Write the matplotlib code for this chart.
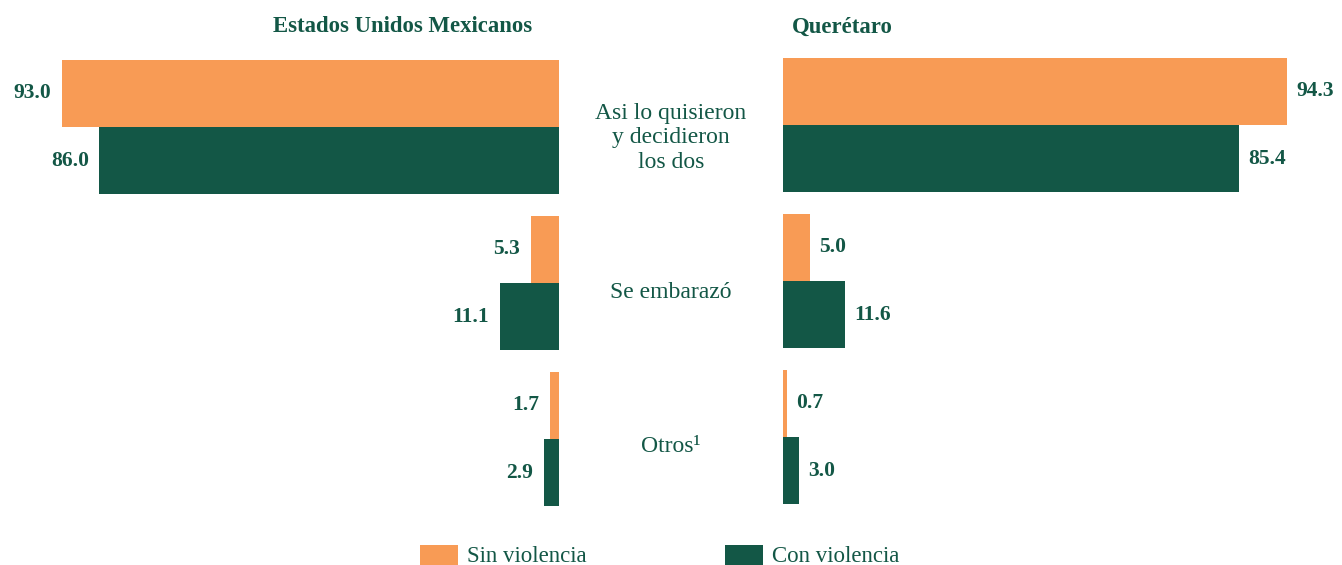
import matplotlib
matplotlib.use("Agg")
import matplotlib.pyplot as plt
from matplotlib.patches import Rectangle

plt.rcParams['font.family'] = ['Liberation Serif', 'DejaVu Serif']

categories = ["Asi lo quisieron\ny decidieron\nlos dos", "Se embarazó", "Otros¹"]
series_names = ["Sin violencia", "Con violencia"]
nacional_sin = [93.0, 5.3, 1.7]
nacional_con = [86.0, 11.1, 2.9]
queretaro_sin = [94.3, 5.0, 0.7]
queretaro_con = [85.4, 11.6, 3.0]
panel_titles = ["Estados Unidos Mexicanos", "Querétaro"]

ORANGE = "#F89B55"
GREEN = "#135746"

W, H = 1342, 565
fig = plt.figure(figsize=(W / 100, H / 100), dpi=100)

def fx(px):
    return px / W

def fy(py):
    return 1 - py / H

bar_h = 0.43
scale_units = 100
px_per_unit = 5.344
ax_w_px = scale_units * px_per_unit

axL = fig.add_axes([fx(559 - ax_w_px), fy(517), ax_w_px / W, 468 / H])
axR = fig.add_axes([fx(783), fy(515), ax_w_px / W, 468 / H])

ys = list(range(len(categories)))
for ax, sin, con, left in [(axL, nacional_sin, nacional_con, True),
                           (axR, queretaro_sin, queretaro_con, False)]:
    y_sin = [y - bar_h / 2 for y in ys]
    y_con = [y + bar_h / 2 for y in ys]
    ax.barh(y_sin, sin, height=bar_h, color=ORANGE, linewidth=0)
    ax.barh(y_con, con, height=bar_h, color=GREEN, linewidth=0)
    ax.set_ylim(2.5, -0.5)
    if left:
        ax.set_xlim(scale_units, 0)
    else:
        ax.set_xlim(0, scale_units)
    ax.axis('off')
    for yy, vals in [(y_sin, sin), (y_con, con)]:
        for y, v in zip(yy, vals):
            ax.annotate(f"{v:.1f}", xy=(v, y), xytext=(-7.5 if left else 6.5, 0),
                        textcoords="offset points",
                        ha="right" if left else "left", va="center",
                        fontsize=15.5, fontweight="bold", color=GREEN)

fig.text(fx(403), fy(27), panel_titles[0], ha="center", va="center",
         fontsize=16.4, fontweight="bold", color=GREEN)
fig.text(fx(842), fy(27), panel_titles[1], ha="center", va="center",
         fontsize=16.4, fontweight="bold", color=GREEN)

label_y = [138, 293, 446]
for lab, py in zip(categories, label_y):
    fig.text(fx(671), fy(py), lab, ha="center", va="center", fontsize=17,
             color=GREEN, linespacing=1.22)

for x0, col, name in [(420, ORANGE, series_names[0]), (725, GREEN, series_names[1])]:
    fig.patches.append(Rectangle((fx(x0), fy(566)), 38 / W, 21 / H,
                                 transform=fig.transFigure, color=col, linewidth=0))
    fig.text(fx(x0 + 47), fy(557), name, ha="left", va="center",
             fontsize=16.5, color=GREEN)

fig.savefig("out.png", dpi=100)
